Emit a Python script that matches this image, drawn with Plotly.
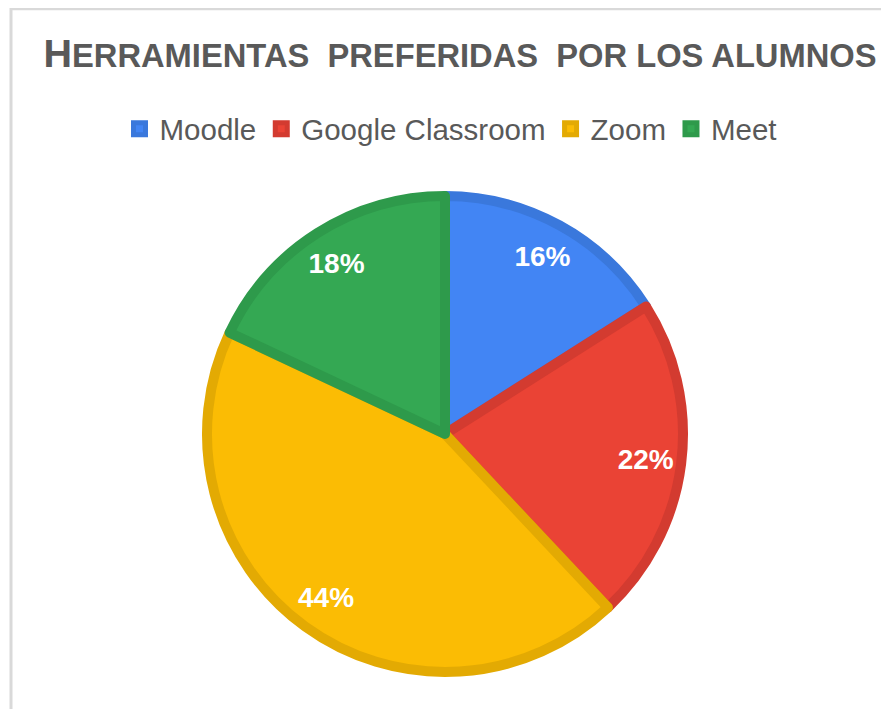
import plotly.graph_objects as go

labels = ["Moodle", "Google Classroom", "Zoom", "Meet"]
values = [16, 22, 44, 18]
fill_colors = ["#4285F4", "#EA4335", "#FBBC04", "#34A853"]
edge_colors = ["#3A78DC", "#D33B30", "#E3AA03", "#2E9A4B"]

title_first = "H"
title_rest = "ERRAMIENTAS  PREFERIDAS  POR LOS ALUMNOS"

W, H = 889, 709
OFF = 8  # page body margin offset
FONT = "Liberation Sans, Arial, sans-serif"


def px(x):
    return (x - OFF) / W


def py(y):
    return 1 - (y - OFF) / H


cx, cy, R = 445, 434, 238
dom_x = [px(cx - R), px(cx + R)]
dom_y = [py(cy + R), py(cy - R)]

fig = go.Figure()
fig.add_trace(go.Pie(
    labels=labels, values=values, sort=False, direction="clockwise", rotation=0,
    marker=dict(colors=fill_colors, line=dict(color=edge_colors, width=10)),
    textinfo="none", hoverinfo="label+percent",
    domain=dict(x=dom_x, y=dom_y), showlegend=True,
))
fig.add_trace(go.Pie(
    labels=labels, values=values, sort=False, direction="clockwise", rotation=0,
    hole=0.7,
    marker=dict(colors=["rgba(0,0,0,0)"] * 4, line=dict(width=0)),
    texttemplate="%{percent:.0%}", textposition="inside",
    insidetextorientation="horizontal",
    textfont=dict(family=FONT, size=28, color="white", weight="bold"),
    hoverinfo="skip", domain=dict(x=dom_x, y=dom_y), showlegend=False,
))

fig.update_layout(
    width=W, height=H,
    margin=dict(l=0, r=0, t=0, b=0),
    paper_bgcolor="white", plot_bgcolor="white",
    title=dict(
        text=f"<b>{title_first}<span style='font-size:32.7px'>{title_rest}</span></b>",
        font=dict(family=FONT, size=39.5, color="#595959"),
        x=px(460), xanchor="center", y=py(53), yanchor="middle",
    ),
    legend=dict(
        orientation="h", x=px(451), xanchor="center", y=py(129), yanchor="middle",
        font=dict(family=FONT, size=29.5, color="#595959"),
        bgcolor="rgba(0,0,0,0)",
    ),
    shapes=[
        dict(type="line", xref="paper", yref="paper", x0=px(10), x1=1,
             y0=py(9), y1=py(9), line=dict(color="#d9d9d9", width=2.5)),
        dict(type="line", xref="paper", yref="paper", x0=px(11), x1=px(11),
             y0=0, y1=py(8), line=dict(color="#d9d9d9", width=3)),
    ],
)

fig.write_html("out.html")
